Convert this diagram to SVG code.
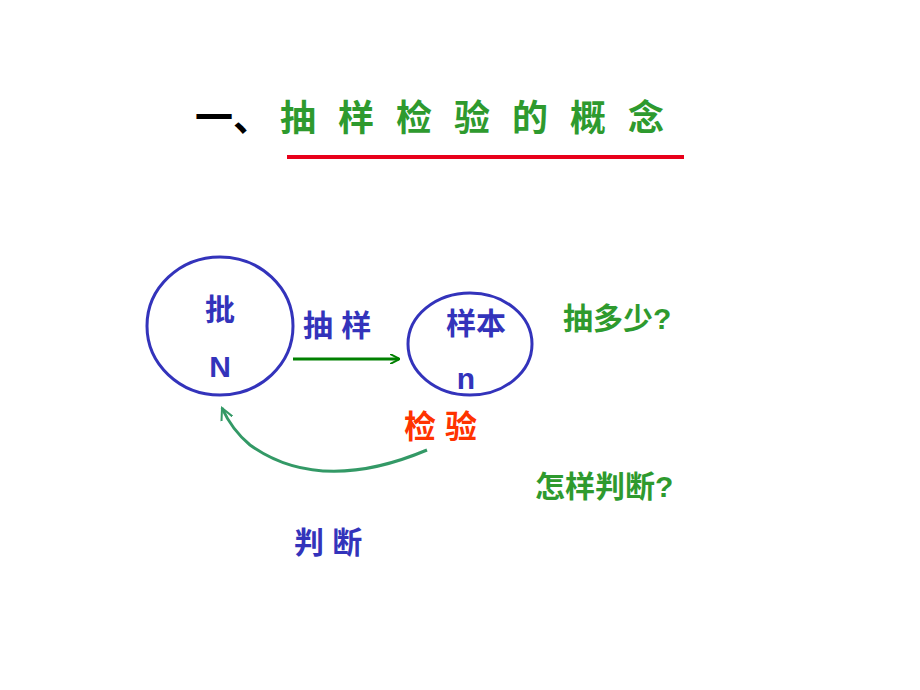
<svg xmlns="http://www.w3.org/2000/svg" width="920" height="690" viewBox="0 0 920 690">
<defs>
<style>
text{font-family:"Liberation Sans","Noto Sans CJK SC",sans-serif;font-weight:bold}
.b{fill:#3333bb}.g{fill:#2e9a2e}
</style>
<marker id="a1" markerWidth="10" markerHeight="10" refX="9" refY="5" orient="auto" markerUnits="userSpaceOnUse" viewBox="0 0 10 10"><path d="M0,0 L10,5 L0,10" fill="none" stroke="#008000" stroke-width="2"/></marker>
<marker id="a2" markerWidth="14" markerHeight="14" refX="12" refY="7" orient="auto" markerUnits="userSpaceOnUse" viewBox="0 0 14 14"><path d="M0,1 L12,7 L0,13" fill="none" stroke="#339966" stroke-width="2"/></marker>
</defs>
<rect width="920" height="690" fill="#fff"/>
<g id="title">
<text x="195" y="131" font-size="38" fill="#000">一、</text>
<text x="280" y="131" font-size="36" fill="#2e9a2e" letter-spacing="22">抽样检验的概念</text>
<line x1="287" y1="157" x2="684" y2="157" stroke="#e8001a" stroke-width="4"/>
</g>
<g id="batch"><ellipse cx="220" cy="326" rx="73" ry="69" fill="none" stroke="#3333bb" stroke-width="3"/>
<text x="220" y="320" font-size="30" class="b" text-anchor="middle">批</text>
<text x="220" y="377" font-size="30" class="b" text-anchor="middle">N</text></g>
<g id="sample"><ellipse cx="470" cy="344" rx="62" ry="51" fill="none" stroke="#3333bb" stroke-width="3"/>
<text x="476" y="334" font-size="30" class="b" text-anchor="middle">样本</text>
<text x="466" y="389" font-size="30" class="b" text-anchor="middle">n</text></g>
<g id="connectors">
<line x1="293" y1="359" x2="399" y2="359" stroke="#008000" stroke-width="3" marker-end="url(#a1)"/>
<path d="M427,450 Q320,495 250,445 Q232,430 222,408" fill="none" stroke="#339966" stroke-width="3" marker-end="url(#a2)"/>
</g>
<g id="labels">
<text x="303" y="336" font-size="30" class="b">抽 样</text>
<text x="404" y="438" font-size="32" fill="#ff3300">检 验</text>
<text x="294" y="553" font-size="30" class="b">判 断</text>
<text x="563" y="329" font-size="30" class="g">抽多少?</text>
<text x="535" y="497" font-size="30" class="g">怎样判断?</text>
</g>
</svg>
